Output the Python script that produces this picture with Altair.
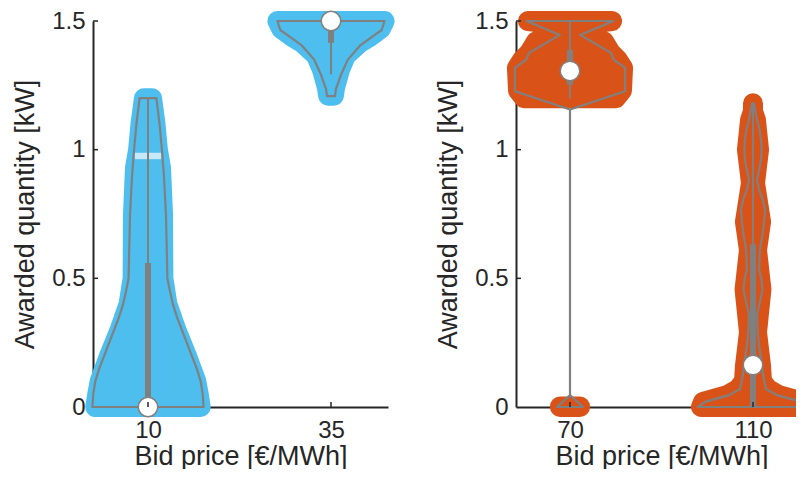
import altair as alt
import pandas as pd

# ---------------- data ----------------
tick_labels_a = ["10", "35"]      # bid prices, left panel
tick_labels_b = ["70", "110"]     # bid prices, right panel
y_ticks = [0, 0.5, 1, 1.5]

# violin outlines (kernel density half-widths, in category units)
g10_out_y = [0, 0.05, 0.1, 0.15, 0.2, 0.25, 0.3, 0.35, 0.4, 0.45, 0.5, 0.6, 0.75, 0.9, 1.0, 1.1, 1.2]
g10_out_w = [0.304, 0.299, 0.288, 0.266, 0.239, 0.212, 0.185, 0.158, 0.136, 0.120, 0.106, 0.103, 0.098, 0.087, 0.076, 0.063, 0.046]
g35_out_y = [1.208, 1.235, 1.29, 1.35, 1.404, 1.44, 1.465, 1.5]
g35_out_w = [0.022, 0.027, 0.054, 0.092, 0.158, 0.228, 0.277, 0.293]
g70_out_y = [0, 0.046, 1.156, 1.227, 1.318, 1.349, 1.376, 1.446, 1.5]
g70_out_w = [0.071, 0.0, 0.0, 0.301, 0.301, 0.240, 0.224, 0.055, 0.238]
g110_out_y = [0, 0.02, 0.046, 0.07, 0.124, 0.2, 0.24, 0.28, 0.357, 0.41, 0.457, 0.5, 0.535, 0.612, 0.67, 0.717, 0.767, 0.81, 0.845, 0.884, 0.92, 0.96, 1.0, 1.039, 1.08, 1.116, 1.18]
g110_out_w = [0.301, 0.262, 0.131, 0.071, 0.055, 0.042, 0.033, 0.027, 0.022, 0.038, 0.052, 0.045, 0.033, 0.038, 0.052, 0.060, 0.066, 0.052, 0.033, 0.022, 0.033, 0.044, 0.047, 0.044, 0.035, 0.022, 0.005]

# swarm envelope of the individual awards (half-width of point centres)
g10_pts_y = [0, 0.05, 0.1, 0.2, 0.3, 0.4, 0.5, 0.75, 0.93, 1.0, 1.1, 1.2]
g10_pts_w = [0.288, 0.277, 0.264, 0.212, 0.155, 0.106, 0.084, 0.082, 0.071, 0.054, 0.041, 0.022]
g10_gap_y = [0.963, 0.988]          # thin empty band in the swarm
g10_gap_w = [0.073, 0.073]
g35_pts_y = [1.21, 1.24, 1.31, 1.366, 1.415, 1.44, 1.47, 1.5]
g35_pts_w = [0.016, 0.022, 0.049, 0.082, 0.158, 0.217, 0.272, 0.293]
g70_pts_y = [1.2, 1.23, 1.318, 1.349, 1.376, 1.42, 1.446, 1.49, 1.5]
g70_pts_w = [0.251, 0.284, 0.290, 0.262, 0.224, 0.186, 0.098, 0.109, 0.230]
g70_low_y = [0, 0.002]
g70_low_w = [0.055, 0.055]
g110_pts_y = [0, 0.02, 0.046, 0.07, 0.1, 0.16, 0.29, 0.457, 0.61, 0.72, 0.87, 1.0, 1.116, 1.15, 1.18]
g110_pts_w = [0.284, 0.273, 0.142, 0.082, 0.049, 0.044, 0.022, 0.046, 0.022, 0.044, 0.011, 0.033, 0.016, 0.0, 0.0]

# box statistics: [median, q1, q3, whisker low, whisker high]
g10_box = [0.0, 0.0, 0.56, 0.0, 1.2]
g35_box = [1.5, 1.415, 1.475, 1.293, 1.5]
g70_box = [1.306, 1.252, 1.388, 1.2, 1.5]
g110_box = [0.163, 0.0, 0.632, 0.0, 1.182]

BLUE = "#4DBEEE"
BLUE_GAP = "#C6E9F8"
ORANGE = "#D95319"
GRAY = "#808080"
FONT = "Liberation Sans"
TXT = "#262626"


def band(name, center, ys, ws):
    return pd.DataFrame({"g": name, "y": ys,
                         "lo": [center - w for w in ws],
                         "hi": [center + w for w in ws]})


def boxes(items):
    rows = []
    for c, b in items:
        rows.append({"c": c, "med": b[0], "q1": b[1], "q3": b[2], "wl": b[3], "wh": b[4]})
    return pd.DataFrame(rows)


def panel(pts, out, box, color, labels, xdom, width, height, gap=None):
    xs = alt.Scale(domain=xdom, nice=False, zero=False)
    ys = alt.Scale(domain=[0, 1.5], nice=False, zero=False)
    lab_expr = "datum.value == 1 ? '%s' : '%s'" % (labels[0], labels[1])
    xax = alt.Axis(values=[1, 2], labelExpr=lab_expr, title="Bid price [€/MWh]",
                   ticks=False, grid=False, labelPadding=11, titlePadding=1,
                   labelFontSize=24, titleFontSize=27, titleFontWeight="normal",
                   labelFont=FONT, titleFont=FONT, labelColor=TXT, titleColor=TXT,
                   domainColor=TXT, domainWidth=2)
    yax = alt.Axis(values=y_ticks, format="~g", title="Awarded quantity [kW]",
                   ticks=False, grid=False, labelPadding=8, titlePadding=12,
                   labelFontSize=24, titleFontSize=27, titleFontWeight="normal",
                   labelFont=FONT, titleFont=FONT, labelColor=TXT, titleColor=TXT,
                   domainColor=TXT, domainWidth=2)
    X = lambda f: alt.X(f, scale=xs, axis=xax)
    Y = lambda f: alt.Y(f, scale=ys, axis=yax)

    layers = [alt.Chart(pts).mark_area(orient="horizontal", color=color, stroke=color,
                                       strokeWidth=20, strokeJoin="round", strokeCap="round",
                                       opacity=1).encode(
        y=Y("y:Q"), x=X("lo:Q"), x2="hi:Q", detail="g:N")]
    if gap is not None:
        layers.append(alt.Chart(gap).mark_area(orient="horizontal", color=BLUE_GAP, opacity=1).encode(
            y=Y("y:Q"), x=X("lo:Q"), x2="hi:Q", detail="g:N"))
    layers.append(alt.Chart(out).mark_area(orient="horizontal", fillOpacity=0, stroke=GRAY,
                                           strokeWidth=2.2, strokeJoin="round").encode(
        y=Y("y:Q"), x=X("lo:Q"), x2="hi:Q", detail="g:N"))
    layers.append(alt.Chart(box).mark_rule(color=GRAY, strokeWidth=2).encode(
        x=X("c:Q"), y=Y("wl:Q"), y2="wh:Q"))
    layers.append(alt.Chart(box).mark_rule(color=GRAY, strokeWidth=6).encode(
        x=X("c:Q"), y=Y("q1:Q"), y2="q3:Q"))
    layers.append(alt.Chart(box).mark_circle(size=380, color="white", stroke=GRAY,
                                             strokeWidth=1.5, opacity=1).encode(
        x=X("c:Q"), y=Y("med:Q")))
    layers.append(alt.Chart(pd.DataFrame({"t": y_ticks[1:]})).mark_rule(color=TXT, strokeWidth=1.5).encode(
        y=Y("t:Q"), x=alt.value(0), x2=alt.value(5)))
    layers.append(alt.Chart(pd.DataFrame({"t": [1, 2]})).mark_rule(color=TXT, strokeWidth=1.5).encode(
        x=X("t:Q"), y=alt.value(height), y2=alt.value(height - 5)))
    return alt.layer(*layers).properties(width=width, height=height)


pts_a = pd.concat([band("10", 1, g10_pts_y, g10_pts_w), band("35", 2, g35_pts_y, g35_pts_w)])
gap_a = band("10gap", 1, g10_gap_y, g10_gap_w)
out_a = pd.concat([band("10", 1, g10_out_y, g10_out_w), band("35", 2, g35_out_y, g35_out_w)])
box_a = boxes([(1, g10_box), (2, g35_box)])

pts_b = pd.concat([band("70a", 1, g70_pts_y, g70_pts_w), band("70b", 1, g70_low_y, g70_low_w),
                   band("110", 2, g110_pts_y, g110_pts_w)])
out_b = pd.concat([band("70", 1, g70_out_y, g70_out_w), band("110", 2, g110_out_y, g110_out_w)])
box_b = boxes([(1, g70_box), (2, g110_box)])

left = panel(pts_a, out_a, box_a, BLUE, tick_labels_a, [1 - 55 / 183, 2 + 57 / 183], 295, 386, gap=gap_a)
right = panel(pts_b, out_b, box_b, ORANGE, tick_labels_b, [1 - 54 / 183, 2 + 54 / 183], 291, 386)

chart = alt.hconcat(left, right, spacing=39).properties(
    padding={"left": 3, "top": 0, "right": -19, "bottom": 0},
    background="white"
).configure_view(stroke=None)

chart.save("out.html", embed_options={"renderer": "svg", "actions": False})
